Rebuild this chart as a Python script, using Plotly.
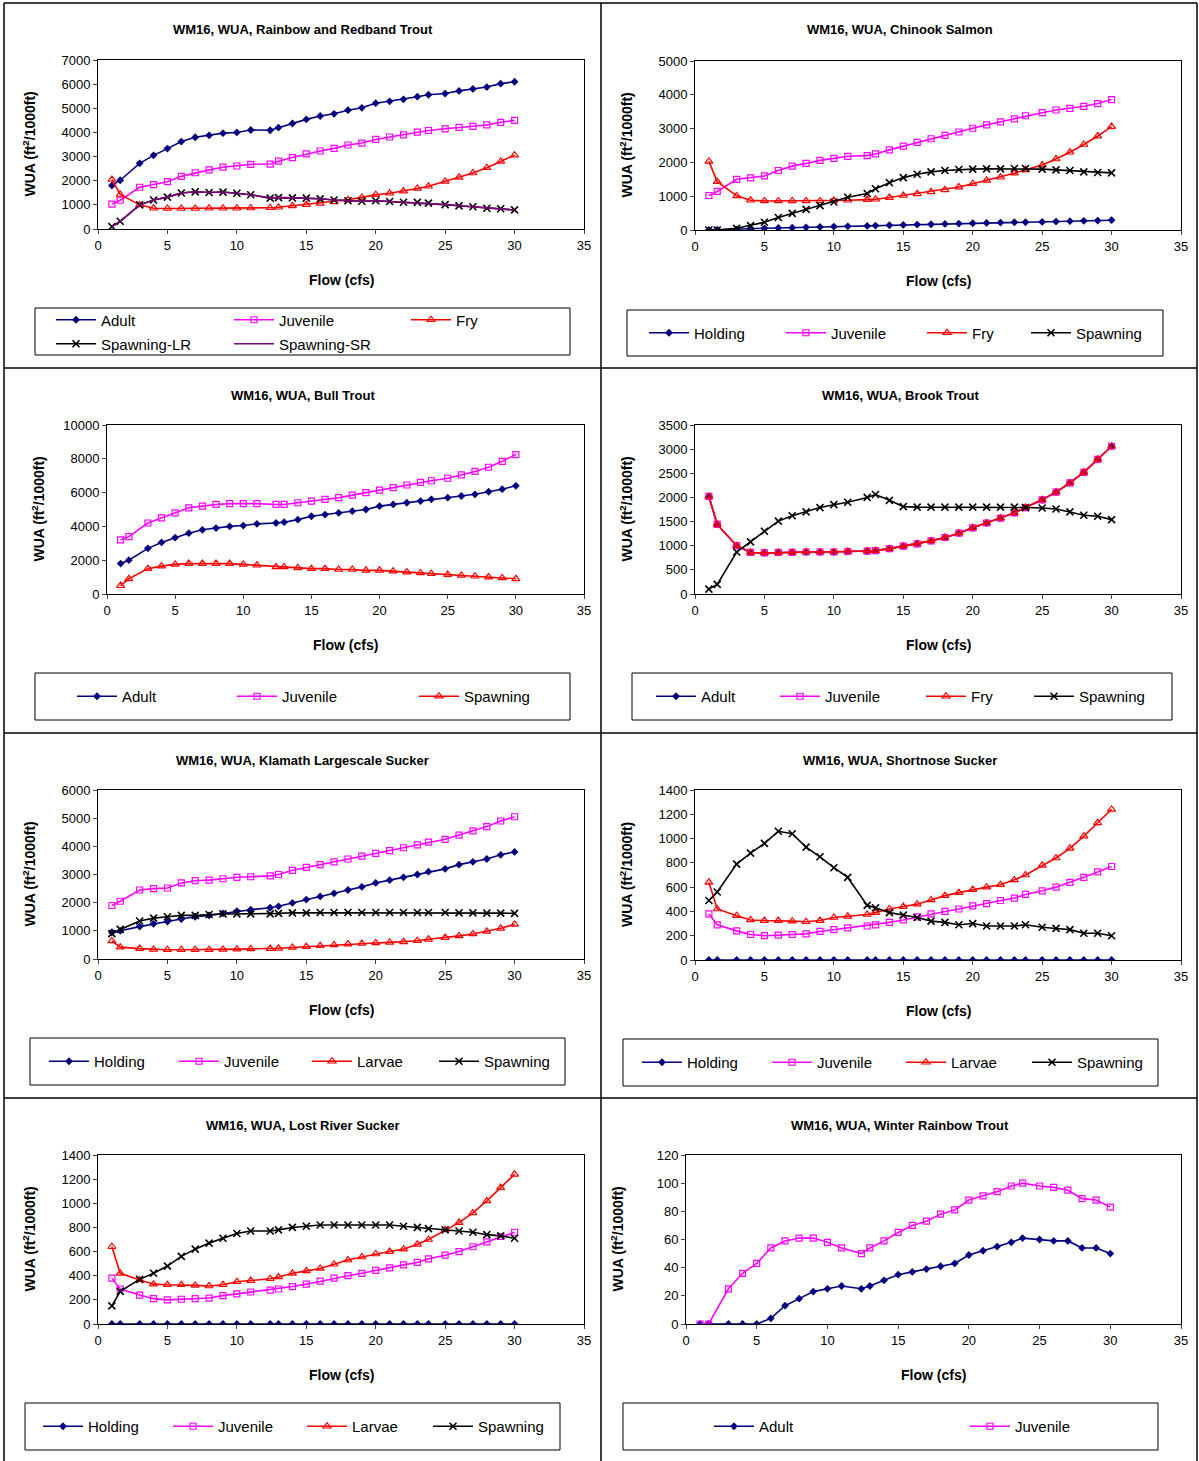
import plotly.graph_objects as go

W, H = 1199, 1461
FLOW = [1, 1.6, 3, 4, 5, 6, 7, 8, 9, 10, 11, 12.4, 13, 14, 15, 16, 17, 18, 19, 20,
        21, 22, 23, 23.8, 25, 26, 27, 28, 29, 30]

# --- Rainbow and Redband Trout
rb_adult = [1800, 2020, 2720, 3050, 3330, 3620, 3800, 3880, 3970, 4000, 4100, 4090, 4200, 4370, 4540,
            4680, 4770, 4920, 5020, 5210, 5290, 5370, 5480, 5560, 5610, 5720, 5800, 5880, 6020, 6100]
rb_juv = [1030, 1190, 1730, 1840, 1960, 2180, 2330, 2450, 2560, 2610, 2680, 2690, 2810, 2960, 3110,
          3230, 3340, 3480, 3560, 3710, 3810, 3900, 4010, 4080, 4150, 4210, 4250, 4310, 4420, 4500]
rb_fry = [2050, 1430, 1000, 860, 850, 850, 850, 860, 860, 860, 870, 880, 900, 960, 1010,
          1060, 1120, 1210, 1310, 1420, 1480, 1570, 1680, 1770, 1970, 2140, 2320, 2540, 2800, 3060]
rb_spawn_lr = [100, 320, 1000, 1200, 1320, 1490, 1540, 1510, 1530, 1480, 1420, 1280, 1300, 1290, 1280,
               1250, 1200, 1170, 1150, 1170, 1140, 1110, 1100, 1070, 1010, 960, 920, 860, 840, 790]
rb_spawn_sr = rb_spawn_lr

# --- Chinook Salmon
ch_hold = [0, 10, 20, 30, 50, 60, 70, 80, 90, 100, 110, 120, 130, 140, 150,
           160, 170, 180, 190, 200, 210, 220, 230, 230, 240, 250, 260, 270, 280, 290]
ch_juv = [1020, 1140, 1500, 1540, 1600, 1760, 1890, 1970, 2060, 2120, 2180, 2200, 2250, 2370, 2480,
          2590, 2700, 2800, 2900, 3010, 3110, 3200, 3290, 3380, 3470, 3550, 3600, 3660, 3740, 3860]
ch_fry = [2030, 1430, 1010, 880, 860, 860, 860, 860, 860, 870, 880, 900, 910, 960, 1020,
          1070, 1130, 1190, 1270, 1370, 1470, 1560, 1680, 1780, 1920, 2100, 2300, 2530, 2780, 3060]
ch_spawn = [0, 0, 50, 130, 230, 370, 490, 610, 720, 830, 970, 1080, 1220, 1400, 1550,
            1650, 1720, 1760, 1790, 1800, 1810, 1810, 1820, 1820, 1800, 1780, 1760, 1720, 1700, 1690]

# --- Bull Trout
bt_adult = [1800, 2000, 2700, 3050, 3330, 3600, 3800, 3900, 4000, 4050, 4150, 4200, 4250, 4400, 4600,
            4700, 4800, 4900, 5000, 5200, 5300, 5400, 5500, 5600, 5700, 5800, 5900, 6050, 6200, 6400]
bt_juv = [3200, 3400, 4200, 4500, 4800, 5100, 5200, 5300, 5350, 5350, 5350, 5300, 5300, 5400, 5500,
          5600, 5700, 5850, 6000, 6150, 6300, 6450, 6600, 6700, 6850, 7050, 7250, 7500, 7850, 8250]
bt_spawn = [500, 900, 1500, 1650, 1750, 1800, 1800, 1800, 1800, 1750, 1700, 1600, 1600, 1550, 1500,
            1500, 1450, 1450, 1400, 1400, 1350, 1300, 1250, 1200, 1150, 1100, 1050, 1000, 950, 900]

# --- Brook Trout
bk_adult = [2020, 1440, 1000, 860, 850, 860, 860, 870, 870, 870, 880, 890, 900, 940, 990,
            1040, 1100, 1170, 1260, 1370, 1470, 1570, 1680, 1790, 1950, 2110, 2300, 2520, 2790, 3060]
bk_juv = bk_adult
bk_fry = bk_adult
bk_spawn = [100, 200, 870, 1080, 1300, 1510, 1620, 1700, 1790, 1850, 1900, 2000, 2060, 1940, 1810,
            1800, 1800, 1800, 1800, 1800, 1800, 1800, 1800, 1790, 1780, 1760, 1700, 1630, 1610, 1540]

# --- Klamath Largescale Sucker
kl_hold = [950, 1000, 1150, 1250, 1330, 1420, 1500, 1550, 1620, 1700, 1750, 1820, 1870, 1990, 2110,
           2220, 2330, 2450, 2560, 2700, 2800, 2900, 3000, 3100, 3200, 3350, 3450, 3550, 3700, 3800]
kl_juv = [1900, 2050, 2450, 2500, 2520, 2700, 2780, 2800, 2850, 2900, 2920, 2950, 3000, 3150, 3250,
          3350, 3450, 3550, 3650, 3750, 3850, 3950, 4050, 4150, 4250, 4400, 4550, 4700, 4900, 5050]
kl_larv = [640, 420, 370, 340, 330, 330, 330, 330, 340, 350, 360, 370, 380, 410, 440,
           470, 500, 530, 550, 570, 590, 610, 650, 700, 760, 820, 890, 980, 1090, 1230]
kl_spawn = [900, 1050, 1350, 1450, 1500, 1550, 1550, 1580, 1600, 1600, 1600, 1600, 1620, 1640, 1640,
            1650, 1650, 1650, 1650, 1650, 1650, 1650, 1650, 1650, 1650, 1640, 1640, 1630, 1630, 1620]

# --- Shortnose Sucker
sn_hold = [0] * 30
sn_juv = [380, 290, 240, 210, 200, 205, 210, 215, 235, 250, 265, 280, 290, 310, 330,
          355, 380, 400, 420, 445, 465, 490, 510, 540, 570, 600, 640, 680, 725, 770]
sn_larv = [640, 420, 365, 330, 325, 325, 320, 315, 325, 350, 360, 375, 390, 420, 440,
           460, 495, 530, 555, 580, 600, 620, 660, 700, 780, 840, 920, 1020, 1130, 1240]
sn_spawn = [490, 560, 790, 880, 960, 1060, 1040, 930, 850, 760, 680, 450, 430, 390, 370,
            350, 320, 310, 290, 300, 280, 280, 280, 290, 270, 260, 250, 220, 220, 200]

# --- Lost River Sucker
lr_hold = [0] * 30
lr_juv = [380, 290, 240, 210, 200, 205, 210, 215, 235, 250, 265, 280, 290, 310, 330,
          355, 380, 400, 420, 445, 465, 490, 510, 540, 570, 600, 640, 680, 725, 760]
lr_larv = [640, 420, 365, 330, 325, 325, 320, 315, 325, 350, 360, 375, 390, 420, 440,
           460, 495, 530, 555, 580, 600, 620, 660, 700, 780, 840, 920, 1020, 1130, 1240]
lr_spawn = [150, 270, 370, 420, 480, 560, 620, 670, 710, 750, 770, 770, 780, 800, 810,
            820, 820, 820, 820, 820, 820, 810, 800, 790, 780, 770, 760, 740, 730, 710]

# --- Winter Rainbow Trout
wr_adult = [0, 0, 0, 0, 0, 4, 13, 18, 23, 25, 27, 25, 27, 31, 35,
            37, 39, 41, 43, 49, 52, 55, 58, 61, 60, 59, 59, 54, 54, 50]
wr_juv = [0, 0, 25, 36, 43, 54, 59, 61, 61, 58, 54, 50, 54, 59, 65,
          70, 73, 78, 81, 88, 91, 94, 98, 100, 98, 97, 95, 89, 88, 83]

STY = {
    "diamond": dict(color="#000080", marker=dict(symbol="diamond", size=6, color="#000080")),
    "square": dict(color="#FF00FF", marker=dict(symbol="square-open", size=6, color="#FF00FF", line=dict(width=1.2))),
    "tri": dict(color="#FF0000", marker=dict(symbol="triangle-up-open", size=7, color="#FF0000", line=dict(width=1.2))),
    "x": dict(color="#000000", marker=dict(symbol="x-thin-open", size=7, color="#000000", line=dict(width=1.6, color="#000000"))),
    "purple": dict(color="#800080", marker=None),
}

# (title, yrange, dtick, plot px box [l, r, t, b], legend box px [l, r, t, b], legend entry x px, series)
panels = [
    ("WM16, WUA, Rainbow and Redband Trout", 7000, 1000, [98, 584, 60, 229], [35, 570, 308, 355],
     [57, 235, 412, 57, 235],
     [("Adult", rb_adult, "diamond"), ("Juvenile", rb_juv, "square"), ("Fry", rb_fry, "tri"),
      ("Spawning-LR", rb_spawn_lr, "x"), ("Spawning-SR", rb_spawn_sr, "purple")]),
    ("WM16, WUA, Chinook Salmon", 5000, 1000, [695, 1181, 61, 230], [627, 1163, 310, 356],
     [650, 787, 928, 1032],
     [("Holding", ch_hold, "diamond"), ("Juvenile", ch_juv, "square"), ("Fry", ch_fry, "tri"),
      ("Spawning", ch_spawn, "x")]),
    ("WM16, WUA, Bull Trout", 10000, 2000, [107, 584, 425, 594], [35, 570, 673, 720],
     [78, 238, 420],
     [("Adult", bt_adult, "diamond"), ("Juvenile", bt_juv, "square"), ("Spawning", bt_spawn, "tri")]),
    ("WM16, WUA, Brook Trout", 3500, 500, [695, 1181, 425, 594], [632, 1172, 673, 720],
     [657, 781, 927, 1035],
     [("Adult", bk_adult, "diamond"), ("Juvenile", bk_juv, "square"), ("Fry", bk_fry, "tri"),
      ("Spawning", bk_spawn, "x")]),
    ("WM16, WUA, Klamath Largescale Sucker", 6000, 1000, [98, 584, 790, 959], [30, 565, 1038, 1085],
     [50, 180, 313, 440],
     [("Holding", kl_hold, "diamond"), ("Juvenile", kl_juv, "square"), ("Larvae", kl_larv, "tri"),
      ("Spawning", kl_spawn, "x")]),
    ("WM16, WUA, Shortnose Sucker", 1400, 200, [695, 1181, 790, 960], [623, 1158, 1039, 1086],
     [643, 773, 907, 1033],
     [("Holding", sn_hold, "diamond"), ("Juvenile", sn_juv, "square"), ("Larvae", sn_larv, "tri"),
      ("Spawning", sn_spawn, "x")]),
    ("WM16, WUA, Lost River Sucker", 1400, 200, [98, 584, 1155, 1324], [25, 560, 1403, 1450],
     [44, 174, 308, 434],
     [("Holding", lr_hold, "diamond"), ("Juvenile", lr_juv, "square"), ("Larvae", lr_larv, "tri"),
      ("Spawning", lr_spawn, "x")]),
    ("WM16, WUA, Winter Rainbow Trout", 120, 20, [686, 1181, 1155, 1324], [623, 1158, 1403, 1450],
     [715, 971],
     [("Adult", wr_adult, "diamond"), ("Juvenile", wr_juv, "square")]),
]

fx = lambda px: px / W
fy = lambda py: 1 - py / H

fig = go.Figure()
annotations, shapes, layout = [], [], {}
FONT = "Liberation Sans, Arial, sans-serif"

legend_idx = 2
for i, (title, ymax, dtick, box, lbox, lx, series) in enumerate(panels):
    n = i + 1
    xa, ya = ("x" if n == 1 else f"x{n}"), ("y" if n == 1 else f"y{n}")
    l, r, t, b = box
    layout[f"xaxis{'' if n == 1 else n}"] = dict(
        domain=[fx(l), fx(r)], anchor=ya, range=[0, 35], dtick=5, showgrid=False, zeroline=False,
        showline=True, linecolor="black", mirror=True, ticks="outside", ticklen=4,
        tickfont=dict(size=13, color="black"))
    layout[f"yaxis{'' if n == 1 else n}"] = dict(
        domain=[fy(b), fy(t)], anchor=xa, range=[0, ymax], dtick=dtick, showgrid=False, zeroline=False,
        showline=True, linecolor="black", mirror=True, ticks="outside", ticklen=4, tickformat="d",
        tickfont=dict(size=13, color="black"))
    cx = 303 if l < 600 else 900
    common = dict(xref="paper", yref="paper", xanchor="center", yanchor="middle", showarrow=False)
    annotations.append(dict(text=f"<b>{title}</b>", x=fx(cx), y=fy(30 + 365 * (i // 2)),
                            font=dict(size=13, color="black"), **common))
    annotations.append(dict(text="<b>Flow (cfs)</b>", x=fx((l + r) / 2), y=fy(b + 51),
                            font=dict(size=14, color="black"), **common))
    annotations.append(dict(text="<b>WUA (ft<sup>2</sup>/1000ft)</b>", x=fx(l - 69), y=fy((t + b) / 2),
                            textangle=-90, font=dict(size=14, color="black"), **common))
    ll, lr_, lt, lb = lbox
    shapes.append(dict(type="rect", xref="paper", yref="paper", x0=fx(ll), x1=fx(lr_), y0=fy(lb), y1=fy(lt),
                       line=dict(color="black", width=1)))
    for k, (name, vals, sty) in enumerate(series):
        lname = f"legend{legend_idx}"
        if n == 1:
            ly = lt + 12 + 24 * (k // 3)
        else:
            ly = (lt + lb) / 2
        layout[lname] = dict(x=fx(lx[k] - 6), y=fy(ly), xanchor="left", yanchor="middle",
                             bgcolor="rgba(0,0,0,0)", font=dict(size=15, color="black"),
                             itemwidth=40)
        s = STY[sty]
        kw = dict(x=FLOW, y=vals, name=name, xaxis=xa, yaxis=ya, legend=lname,
                  line=dict(color=s["color"], width=1.6))
        if s["marker"] is None:
            kw["mode"] = "lines"
        else:
            kw["mode"] = "lines+markers"
            kw["marker"] = s["marker"]
        fig.add_trace(go.Scatter(**kw))
        legend_idx += 1

# cell borders
for x in [4, 601, 1197]:
    shapes.append(dict(type="line", xref="paper", yref="paper", x0=fx(x), x1=fx(x), y0=fy(3), y1=fy(1461),
                       line=dict(color="black", width=1.5)))
for y in [3, 368, 733, 1098]:
    shapes.append(dict(type="line", xref="paper", yref="paper", x0=fx(4), x1=fx(1197), y0=fy(y), y1=fy(y),
                       line=dict(color="black", width=1.5)))

fig.update_layout(width=W, height=H, margin=dict(l=0, r=0, t=0, b=0, autoexpand=False),
                  plot_bgcolor="white", paper_bgcolor="white", font=dict(family=FONT, color="black"),
                  annotations=annotations, shapes=shapes, showlegend=True, **layout)
fig.write_html("out.html", config={"displayModeBar": False},
               post_script="document.body.style.margin='0';")
